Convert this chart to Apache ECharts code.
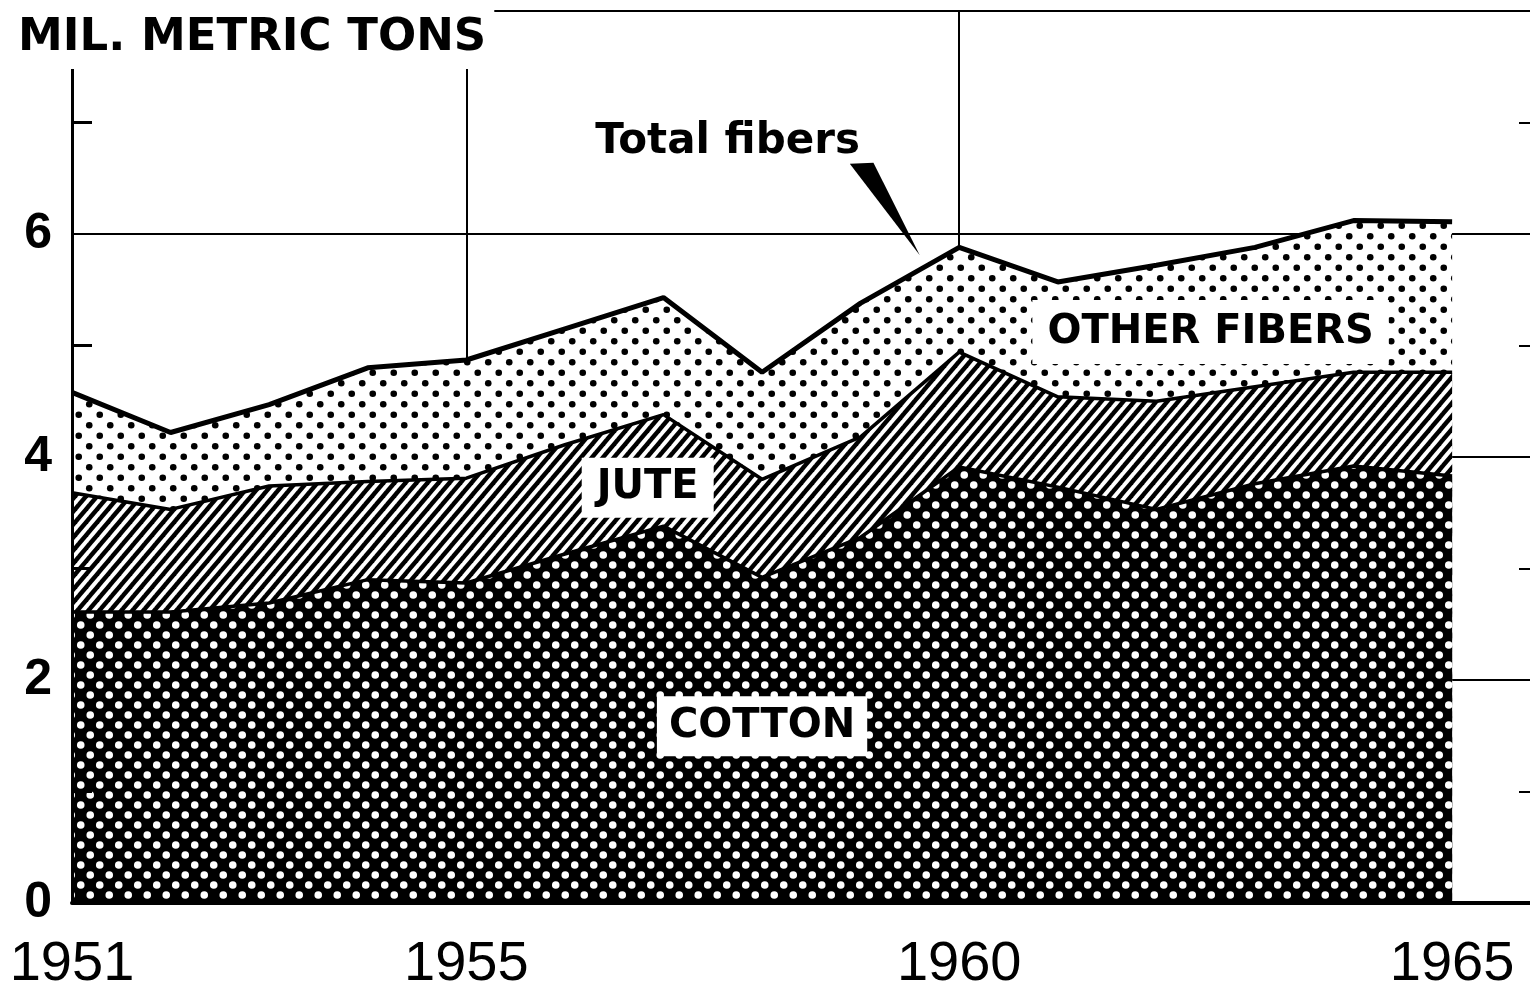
<!DOCTYPE html>
<html>
<head>
<meta charset="utf-8">
<title>Fiber consumption 1951-1965</title>
<script src="https://cdn.jsdelivr.net/npm/echarts@6/dist/echarts.min.js"></script>
<style>
  html, body { margin: 0; padding: 0; background: #fff; }
  #main { width: 1530px; height: 993px; }
</style>
</head>
<body>
<div id="main"></div>
<script>
// values, million metric tons
var years = [1951, 1952, 1953, 1954, 1955, 1956, 1957, 1958, 1959, 1960, 1961, 1962, 1963, 1964, 1965];
var cotton = [2.61, 2.61, 2.69, 2.90, 2.87, 3.13, 3.38, 2.92, 3.28, 3.91, 3.73, 3.53, 3.76, 3.92, 3.83];
var jute = [1.07, 0.92, 1.05, 0.88, 0.94, 0.98, 1.00, 0.88, 0.90, 1.03, 0.81, 0.97, 0.87, 0.84, 0.93];
var otherFibers = [0.90, 0.69, 0.73, 1.02, 1.06, 1.04, 1.05, 0.96, 1.20, 0.94, 1.03, 1.22, 1.25, 1.36, 1.35];
var xLabelYears = [1951, 1955, 1960, 1965];
var xGridYears = [1955, 1960];

// layers are drawn as cumulative tops, back to front
function cumulative(parts) {
  var out = [];
  for (var i = 0; i < years.length; i++) {
    var s = 0;
    parts.forEach(function (p) { s += p[i]; });
    out.push([years[i], +s.toFixed(3)]);
  }
  return out;
}

// fill patterns
function dots(w, h, r, bg, fg) {
  var c = document.createElement('canvas');
  c.width = w; c.height = h;
  var ctx = c.getContext('2d');
  ctx.fillStyle = bg;
  ctx.fillRect(0, 0, w, h);
  ctx.fillStyle = fg;
  [[w / 4, h / 4], [3 * w / 4, 3 * h / 4]].forEach(function (p) {
    ctx.beginPath();
    ctx.arc(p[0], p[1], r, 0, Math.PI * 2);
    ctx.fill();
  });
  return c;
}
function hatch(w, h, lw) {
  var c = document.createElement('canvas');
  c.width = w; c.height = h;
  var ctx = c.getContext('2d');
  ctx.fillStyle = '#fff';
  ctx.fillRect(0, 0, w, h);
  ctx.strokeStyle = '#000';
  ctx.lineWidth = lw;
  for (var k = -1; k <= 1; k++) {
    ctx.beginPath();
    ctx.moveTo(-w + k * w, 2 * h);
    ctx.lineTo(2 * w + k * w, -h);
    ctx.stroke();
  }
  return c;
}
var cottonFill = { image: dots(19, 20, 3.8, '#000', '#fff'), repeat: 'repeat' };
var juteFill = { image: hatch(11, 13, 4.4), repeat: 'repeat' };
var otherFill = { image: dots(21, 21, 3.3, '#fff', '#000'), repeat: 'repeat' };

var chart = echarts.init(document.getElementById('main'));

var option = {
  animation: false,
  backgroundColor: '#fff',
  title: {
    text: 'MIL. METRIC TONS',
    left: 8,
    top: 8,
    padding: [8, 8, 8, 10],
    backgroundColor: '#fff',
    textStyle: { fontFamily: 'DejaVu Sans', fontWeight: 'bold', fontSize: 45, color: '#000' }
  },
  grid: { left: 72, right: 0, top: 11, bottom: 88 },
  xAxis: {
    type: 'value',
    min: 1951,
    max: 1965.79,
    z: 3,
    axisLine: { show: true, lineStyle: { color: '#000', width: 4 } },
    axisTick: { show: false, customValues: xGridYears },
    axisLabel: {
      customValues: xLabelYears,
      fontFamily: 'Liberation Sans',
      fontSize: 56,
      color: '#000',
      margin: 34,
      formatter: function (v) { return String(v); }
    },
    splitLine: { show: true, lineStyle: { color: '#000', width: 2 } }
  },
  yAxis: [{
    type: 'value',
    min: 0,
    max: 8,
    interval: 2,
    z: 3,
    axisLine: { show: true, lineStyle: { color: '#000', width: 3 } },
    axisTick: { show: false, inside: true },
    minorTick: { show: true, splitNumber: 2, length: 20, lineStyle: { color: '#000', width: 3 } },
    axisLabel: {
      fontFamily: 'Liberation Sans',
      fontWeight: 'bold',
      fontSize: 50,
      color: '#000',
      margin: 20,
      formatter: function (v) { return v === 8 ? '' : String(v); }
    },
    splitLine: { show: true, lineStyle: { color: '#000', width: 2 } }
  }, {
    type: 'value',
    position: 'right',
    min: 0,
    max: 8,
    interval: 2,
    z: 3,
    axisLine: { show: false },
    axisTick: { show: false, inside: true },
    minorTick: { show: true, splitNumber: 2, length: 11, lineStyle: { color: '#000', width: 2 } },
    axisLabel: { show: false },
    splitLine: { show: false }
  }],
  series: [{
    name: 'Total fibers',
    type: 'line',
    data: cumulative([cotton, jute, otherFibers]),
    symbol: 'none',
    lineStyle: { color: '#000', width: 5 },
    areaStyle: { color: otherFill, opacity: 1 }
  }, {
    name: 'Jute',
    type: 'line',
    data: cumulative([cotton, jute]),
    symbol: 'none',
    lineStyle: { color: '#000', width: 3.5 },
    areaStyle: { color: juteFill, opacity: 1 }
  }, {
    name: 'Cotton',
    type: 'line',
    data: cumulative([cotton]),
    symbol: 'none',
    lineStyle: { color: '#000', width: 3.5 },
    areaStyle: { color: cottonFill, opacity: 1 }
  }]
};
chart.setOption(option);

// annotations placed in data coordinates
function px(x, y) { return chart.convertToPixel({ gridIndex: 0 }, [x, y]); }
function boxLabel(text, x, y, pad) {
  var p = px(x, y);
  return {
    type: 'text', x: p[0], y: p[1], z: 100,
    style: {
      text: text, fill: '#000', font: 'bold 40px "DejaVu Sans"',
      align: 'center', verticalAlign: 'middle',
      backgroundColor: '#fff', padding: pad
    }
  };
}
var tl = px(1957.65, 6.82);
var a1 = px(1958.89, 6.63), a2 = px(1959.13, 6.64), a3 = px(1959.6, 5.81);
chart.setOption({
  graphic: [
    boxLabel('OTHER FIBERS', 1962.55, 5.12, [12, 15]),
    boxLabel('JUTE', 1956.84, 3.725, [10, 15]),
    boxLabel('COTTON', 1958.0, 1.585, [10, 12]),
    {
      type: 'text', x: tl[0], y: tl[1], z: 100,
      style: { text: 'Total fibers', fill: '#000', font: 'bold 42px "DejaVu Sans"', align: 'center', verticalAlign: 'middle' }
    },
    {
      type: 'polygon', z: 100,
      shape: { points: [a1, a2, a3] },
      style: { fill: '#000' }
    }
  ]
});
</script>
</body>
</html>
